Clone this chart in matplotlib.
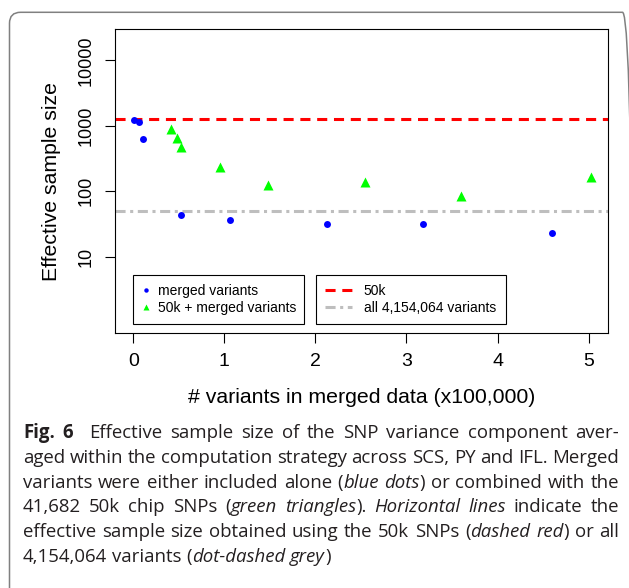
import matplotlib
matplotlib.use("Agg")
import matplotlib.pyplot as plt
from matplotlib.lines import Line2D
from matplotlib.patches import FancyBboxPatch
from matplotlib.transforms import IdentityTransform

# merged variants alone (blue dots), x in units of 100,000 variants
merged_x = [0.01, 0.06, 0.11, 0.53, 1.06, 2.125, 3.18, 4.60]
merged_y = [1205, 1125, 626, 43, 36.5, 31.3, 31, 22.8]

# 50k chip + merged variants (green triangles)
combo_x = [0.42, 0.476, 0.524, 0.948, 1.481, 2.54, 3.60, 5.03]
combo_y = [889, 649, 472, 238, 125, 140, 83, 166]

# reference lines
ess_50k = 1270
ess_all = 49

x_ticks = [0, 1, 2, 3, 4, 5]
y_ticks = [10, 100, 1000, 10000]
y_ticklabels = ["10", "100", "1000", "10000"]

legend_points = ["merged variants", "50k + merged variants"]
legend_lines = ["50k", "all 4,154,064 variants"]

# caption, *bold* and _italic_ markup, one entry per printed line
caption = [
    "*Fig. 6*  Effective sample size of the SNP variance component aver-",
    "aged within the computation strategy across SCS, PY and IFL. Merged",
    "variants were either included alone (_blue dots_) or combined with the",
    "41,682 50k chip SNPs (_green triangles_). _Horizontal lines_ indicate the",
    "effective sample size obtained using the 50k SNPs (_dashed red_) or all",
    "4,154,064 variants (_dot-dashed grey_)",
]

plt.rcParams["font.family"] = ["Liberation Sans", "DejaVu Sans"]

W, H = 629, 588
fig = plt.figure(figsize=(W / 100, H / 100), dpi=100)
fig.patch.set_facecolor("white")

# rounded frame around figure + caption
frame = FancyBboxPatch((9.5, -30), 624, 588 - 12.3 + 30,
                       boxstyle="round,pad=0,rounding_size=11",
                       transform=IdentityTransform(), facecolor="none",
                       edgecolor="#808080", linewidth=1.1, zorder=0)
fig.patches.append(frame)

ax = fig.add_axes([115 / W, 1 - 333.3 / H, (607.7 - 115) / W, (333.3 - 29.3) / H])

ax.plot(merged_x, merged_y, "o", color="blue", ms=5, mec="none", zorder=3)
ax.plot(combo_x, combo_y, "^", color="#00FF00", ms=7.5, mec="none", zorder=3)
ax.axhline(ess_50k, color="red", lw=2.2, linestyle=(0, (3.3, 2.2)), zorder=2)
ax.axhline(ess_all, color="#BEBEBE", lw=2.2,
           linestyle=(0, (3.3, 1.5, 1.0, 1.5)), zorder=2)

ax.set_yscale("log")
ax.set_xlim(-0.2, 5.21)
ax.set_ylim(10 ** -0.172, 10 ** 4.473)
ax.set_xticks(x_ticks)
ax.set_xticklabels([str(t) for t in x_ticks])
ax.set_yticks(y_ticks)
ax.set_yticklabels(y_ticklabels, rotation=90, va="center")
ax.yaxis.set_minor_locator(matplotlib.ticker.NullLocator())
ax.tick_params(axis="both", length=7.5, width=0.8, labelsize=13, pad=7)
ax.tick_params(axis="x", labelsize=14)
for s in ax.spines.values():
    s.set_linewidth(0.8)

ax.set_xlabel("# variants in merged data (x100,000)", fontsize=15.3, labelpad=13)
ax.set_ylabel("Effective sample size", fontsize=15.3, labelpad=12)

h1 = [Line2D([], [], marker="o", color="blue", ls="none", ms=3.2, mec="none"),
      Line2D([], [], marker="^", color="#00FF00", ls="none", ms=4.5, mec="none")]
h2 = [Line2D([], [], color="red", lw=2.2, linestyle=(0, (3.3, 2.2))),
      Line2D([], [], color="#BEBEBE", lw=2.2, linestyle=(0, (3.3, 1.5, 1.0, 1.5)))]

leg_y = (333.3 - 324) / 304
leg1 = ax.legend(h1, legend_points, loc="lower left", mode="expand",
                 bbox_to_anchor=((133.3 - 115) / 492.7, leg_y, (304 - 133.3) / 492.7, 0.1),
                 fontsize=10, fancybox=False, edgecolor="black", framealpha=1,
                 borderaxespad=0, borderpad=0.65, labelspacing=0.22,
                 handlelength=0.55, handletextpad=0.6)
leg1.get_frame().set_linewidth(0.8)
ax.add_artist(leg1)
leg2 = ax.legend(h2, legend_lines, loc="lower left", mode="expand",
                 bbox_to_anchor=((316 - 115) / 492.7, leg_y, (505.7 - 316) / 492.7, 0.1),
                 fontsize=10, fancybox=False, edgecolor="black", framealpha=1,
                 borderaxespad=0, borderpad=0.65, labelspacing=0.22,
                 handlelength=1.95, handletextpad=0.85)
leg2.get_frame().set_linewidth(0.8)

# caption, justified between left and right margins
cap_font = ["Open Sans", "DejaVu Sans"]
cap_fs = 13.4
cap_left, cap_right = 23, 619
cap_y0, cap_dy = 433, 24.8

fig.canvas.draw()
renderer = fig.canvas.get_renderer()


def piece_width(text, weight, style):
    t = fig.text(0, 0, text, fontsize=cap_fs, family=cap_font,
                 fontweight=weight, fontstyle=style)
    w = t.get_window_extent(renderer).width
    t.remove()
    return w


space_w = piece_width("a a", "normal", "normal") - piece_width("aa", "normal", "normal")

bold = False
italic = False
for i, line in enumerate(caption):
    words = []
    for word in line.split(" "):
        pieces = []
        buf = ""
        for ch in word:
            if ch in "*_":
                if buf:
                    pieces.append((buf, bold, italic))
                buf = ""
                if ch == "*":
                    bold = not bold
                else:
                    italic = not italic
            else:
                buf += ch
        if buf:
            pieces.append((buf, bold, italic))
        words.append(pieces)

    widths = []
    for pieces in words:
        widths.append(sum(piece_width(p, "bold" if b else "normal",
                                      "italic" if it else "normal") for p, b, it in pieces))
    if i < len(caption) - 1:
        gap = (cap_right - cap_left - sum(widths)) / (len(words) - 1)
        gap = max(gap, 0.6 * space_w)
    else:
        gap = space_w

    y = H - (cap_y0 + i * cap_dy)
    x = cap_left
    for pieces, w in zip(words, widths):
        for p, b, it in pieces:
            fig.text(x / W, y / H, p, fontsize=cap_fs, family=cap_font,
                     fontweight="bold" if b else "normal",
                     fontstyle="italic" if it else "normal",
                     color="#231F20", va="center", ha="left")
            x += piece_width(p, "bold" if b else "normal", "italic" if it else "normal")
        x += gap

fig.savefig("out.png", dpi=100)
